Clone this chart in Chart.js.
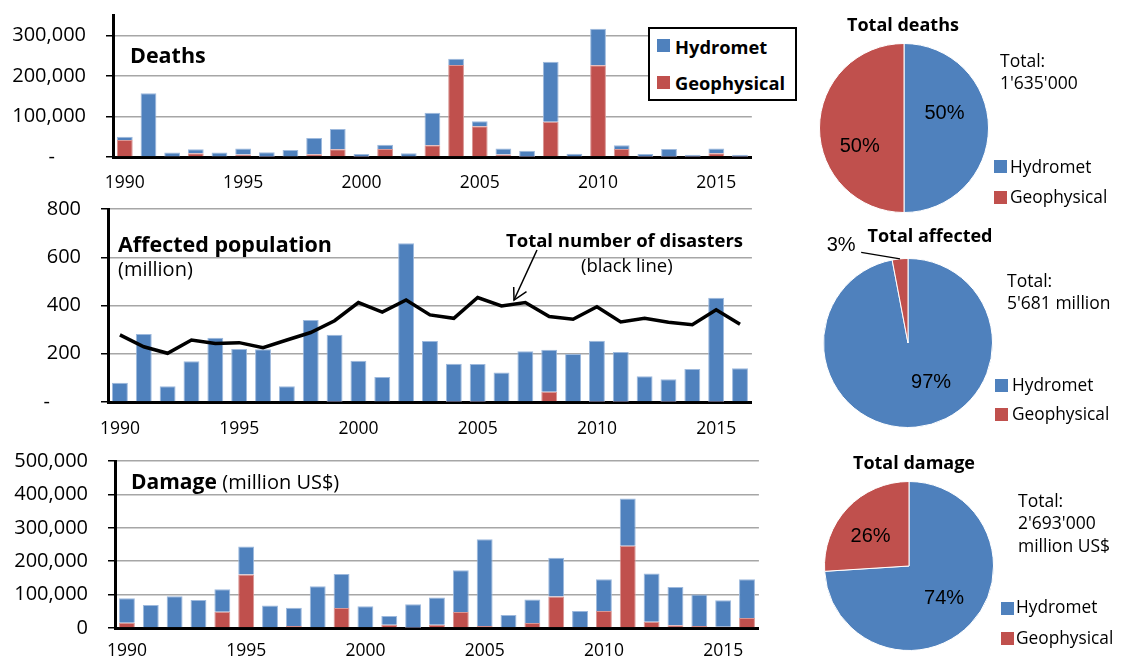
<!DOCTYPE html>
<html><head><meta charset="utf-8">
<script src="https://cdn.jsdelivr.net/npm/chart.js@4"></script>
<style>
html,body{margin:0;padding:0;background:#fff;}
body{width:1129px;height:660px;position:relative;overflow:hidden;font-family:"Open Sans",sans-serif;color:#000;}
canvas{position:absolute;}
.t{position:absolute;white-space:nowrap;line-height:1;}
.b{font-weight:bold;}
.sq{position:absolute;width:13px;height:13px;}
.lg{position:absolute;border:2px solid #000;box-sizing:border-box;background:#fff;}
</style></head>
<body>
<canvas id="cDeaths" width="756" height="195" style="left:0;top:0"></canvas>
<canvas id="cAffected" width="757" height="245" style="left:0;top:195px"></canvas>
<canvas id="cDamage" width="760" height="220" style="left:0;top:440px"></canvas>
<canvas id="pDeaths" width="220" height="220" style="left:794px;top:18px"></canvas>
<canvas id="pAffected" width="220" height="220" style="left:798px;top:233px"></canvas>
<canvas id="pDamage" width="220" height="220" style="left:799px;top:456px"></canvas>

<div class="t b" style="left:130px;top:43.6px;font-size:21.5px">Deaths</div>
<div class="lg" style="left:648px;top:27px;width:149px;height:74px">
  <div class="sq" style="left:7px;top:10px;background:#4F81BD"></div>
  <div class="t b" style="left:25px;top:8.7px;font-size:18.3px">Hydromet</div>
  <div class="sq" style="left:7px;top:47px;background:#C0504D"></div>
  <div class="t b" style="left:25px;top:45.4px;font-size:18.3px">Geophysical</div>
</div>

<div class="t b" style="left:118px;top:232.6px;font-size:21.5px">Affected population</div>
<div class="t" style="left:118px;top:259.2px;font-size:20px">(million)</div>
<div class="t b" style="left:506px;top:230.9px;font-size:18.5px">Total number of disasters</div>
<div class="t" style="left:581px;top:255.6px;font-size:18.5px">(black line)</div>
<svg style="position:absolute;left:0;top:0" width="1129" height="660">
  <line x1="537" y1="250" x2="514" y2="300" stroke="#000" stroke-width="1.5"/>
  <polyline points="513.7,287 514,300 526.5,291.7" fill="none" stroke="#000" stroke-width="1.5"/>
</svg>

<div class="t" style="left:131px;top:471.4px;font-size:21px"><b>Damage</b> <span style="font-size:20px">(million US$)</span></div>

<div class="t b" style="left:803px;top:14.7px;width:200px;text-align:center;font-size:18px">Total deaths</div>
<div class="t" style="left:1000px;top:48.7px;font-size:17.5px;line-height:22.5px">Total:<br>1'635'000</div>
<div class="sq" style="left:994px;top:160px;background:#4F81BD"></div>
<div class="t" style="left:1010px;top:157.5px;font-size:17.3px">Hydromet</div>
<div class="sq" style="left:994px;top:191px;background:#C0504D"></div>
<div class="t" style="left:1010px;top:188.3px;font-size:17.3px">Geophysical</div>

<div class="t b" style="left:830px;top:225.7px;width:200px;text-align:center;font-size:18px">Total affected</div>
<div class="t" style="left:1007px;top:268.7px;font-size:17.5px;line-height:22.5px">Total:<br>5'681 million</div>
<div class="sq" style="left:995px;top:379px;background:#4F81BD"></div>
<div class="t" style="left:1012px;top:375.8px;font-size:17.3px">Hydromet</div>
<div class="sq" style="left:995px;top:408px;background:#C0504D"></div>
<div class="t" style="left:1012px;top:404.5px;font-size:17.3px">Geophysical</div>

<div class="t b" style="left:814px;top:453.3px;width:200px;text-align:center;font-size:18px">Total damage</div>
<div class="t" style="left:1018px;top:488.7px;font-size:17.5px;line-height:22.5px">Total:<br>2'693'000<br>million US$</div>
<div class="sq" style="left:1001px;top:602px;background:#4F81BD"></div>
<div class="t" style="left:1016px;top:598.3px;font-size:17.3px">Hydromet</div>
<div class="sq" style="left:1001px;top:632px;background:#C0504D"></div>
<div class="t" style="left:1016px;top:628.8px;font-size:17.3px">Geophysical</div>

<script>
// ---------- DATA ----------
const years = [1990,1991,1992,1993,1994,1995,1996,1997,1998,1999,2000,2001,2002,2003,2004,2005,2006,2007,2008,2009,2010,2011,2012,2013,2014,2015,2016];
const yearTicks = [1990,1995,2000,2005,2010,2015];
const seriesNames = ['Hydromet','Geophysical'];

const deathsHydro = [8000,157000,10000,10000,10000,15000,11000,16000,40000,50000,7000,10000,8000,80000,15000,12000,15000,15000,148000,7000,90000,9000,7000,19000,5000,12000,5000];
const deathsGeo   = [42000,0,1000,9000,1000,6000,500,1000,7000,19000,500,20000,1000,29000,227000,76000,6000,500,87000,1000,226000,20000,500,500,500,9000,500];
const deathsTicks = [0,100000,200000,300000];

const affectedHydro = [80,282,65,169,266,220,219,65,340,278,171,102,658,253,158,157,122,210,174,199,253,206,107,93,137,431,140];
const affectedGeo   = [0,0,0,0,0,0,0,0,0,1,0,2,0,0,1,1,0,0,43,0,1,1,0,1,0,1,0];
const disasters     = [278,229,202,257,243,246,225,257,288,337,412,373,423,361,347,433,398,412,354,343,395,332,347,331,320,382,322];
const affectedTicks = [0,200,400,600,800];

const damageHydro = [73000,69000,95000,84000,67000,84000,67000,55000,125000,102000,65000,26000,70000,81000,125000,260000,39000,70000,116000,48000,95000,142000,144000,115000,94000,79000,116000];
const damageGeo   = [16000,0,0,0,49000,160000,0,6000,0,60000,0,10000,1000,10000,48000,6000,0,15000,94000,3000,51000,246000,19000,8000,6000,4000,30000];
const damageTicks = [0,100000,200000,300000,400000,500000];

const deathsShare   = [50,50];
const affectedShare = [97,3];
const damageShare   = [74,26];

// ---------- STYLE ----------
const BLUE = '#4F81BD', RED = '#C0504D';
const YFONT = {family:'Open Sans', size:20};
const XFONT = {family:'Open Sans', size:17.5};

function barOptions(o){
  return {
    responsive:false, animation:false, devicePixelRatio:1,
    layout:{padding:{top:o.padTop,left:0,right:0,bottom:0}},
    plugins:{legend:{display:false}, tooltip:{enabled:false}},
    scales:{
      x:{stacked:true, offset:true,
         grid:{display:false, drawTicks:false},
         border:{display:true, color:'#000', width:3},
         ticks:{autoSkip:false, maxRotation:0, minRotation:0, padding:o.xPad, color:'#000', font:XFONT,
                callback:(v,i)=> yearTicks.includes(years[i]) ? String(years[i]) : ''},
         afterFit:s=>{ s.height = o.xHeight; }},
      y:{stacked:true, min:0, max:o.yMax,
         border:{display:true, color:'#000', width:3},
         grid:{color:'#A6A6A6', lineWidth:1.5, drawTicks:true, tickLength:7, tickColor:'#000', tickWidth:1.5},
         afterBuildTicks:s=>{ s.ticks = o.ticks.map(v=>({value:v})); },
         ticks:{color:'#000', padding:20, font:YFONT,
                callback:v=> v===0 ? o.zero : v.toLocaleString('en-US')},
         afterFit:s=>{ s.width = o.yWidth; s.paddingTop = 0; s.paddingBottom = 0; }}
    }
  };
}
function barDs(data,color,edge){
  return {type:'bar', data, backgroundColor:color, borderColor:edge, borderWidth:1,
          barPercentage:1, categoryPercentage:0.667, stack:'bars'};
}

new Chart(document.getElementById('cDeaths'), {
  type:'bar',
  data:{labels:years, datasets:[barDs(deathsGeo,RED,'#D99694'), barDs(deathsHydro,BLUE,'#9DB9DD')]},
  options:barOptions({padTop:15, xHeight:38, xPad:16, yWidth:113, yMax:350000, ticks:deathsTicks, zero:'-      '})
});

new Chart(document.getElementById('cAffected'), {
  type:'bar',
  data:{labels:years, datasets:[
    {type:'line', data:disasters, borderColor:'#000', borderWidth:3.5, pointRadius:0, tension:0, stack:'line', fill:false},
    barDs(affectedGeo,RED,'#D99694'), barDs(affectedHydro,BLUE,'#9DB9DD')]},
  options:barOptions({padTop:14, xHeight:38, xPad:17, yWidth:108, yMax:800, ticks:affectedTicks, zero:'-      '})
});

new Chart(document.getElementById('cDamage'), {
  type:'bar',
  data:{labels:years, datasets:[barDs(damageGeo,RED,'#D99694'), barDs(damageHydro,BLUE,'#9DB9DD')]},
  options:barOptions({padTop:21, xHeight:32, xPad:13, yWidth:115, yMax:500000, ticks:damageTicks, zero:'0'})
});

// pie labels plugin
const pieLabels = {
  id:'pieLabels',
  afterDatasetsDraw(chart, args, opts){
    const ctx = chart.ctx;
    const meta = chart.getDatasetMeta(0);
    const data = chart.data.datasets[0].data;
    const total = data.reduce((a,b)=>a+b,0);
    ctx.save();
    ctx.font = '20px "Liberation Sans", Arial, sans-serif';
    ctx.fillStyle = '#000';
    ctx.textAlign = 'center';
    ctx.textBaseline = 'middle';
    meta.data.forEach((arc,i)=>{
      const it = opts.items[i];
      const mid = (arc.startAngle + arc.endAngle)/2;
      const a = mid + it.rot*Math.PI/180;
      const x = arc.x + Math.cos(a)*arc.outerRadius*it.r;
      const y = arc.y + Math.sin(a)*arc.outerRadius*it.r;
      ctx.fillText(Math.round(data[i]/total*100)+'%', x, y);
      if (it.leader){
        ctx.strokeStyle = '#000'; ctx.lineWidth = 1.2;
        ctx.beginPath();
        ctx.moveTo(x+it.leader[0], y+it.leader[1]);
        ctx.lineTo(arc.x + Math.cos(mid)*arc.outerRadius, arc.y + Math.sin(mid)*arc.outerRadius);
        ctx.stroke();
      }
    });
    ctx.restore();
  }
};
function pie(id, data, items){
  new Chart(document.getElementById(id), {
    type:'pie',
    data:{labels:seriesNames, datasets:[{data, backgroundColor:[BLUE,RED], borderColor:'#fff', borderWidth:1, hoverOffset:0}]},
    options:{responsive:false, animation:false, devicePixelRatio:1, layout:{padding:25},
      plugins:{legend:{display:false}, tooltip:{enabled:false}, pieLabels:{items}}},
    plugins:[pieLabels]
  });
}
pie('pDeaths', deathsShare, [{rot:-20,r:0.51},{rot:-23,r:0.57}]);
pie('pAffected', affectedShare, [{rot:-25,r:0.54},{rot:-29,r:1.4,leader:[20,7]}]);
pie('pDamage', damageShare, [{rot:0,r:0.57},{rot:-6,r:0.57}]);
</script>
</body></html>
